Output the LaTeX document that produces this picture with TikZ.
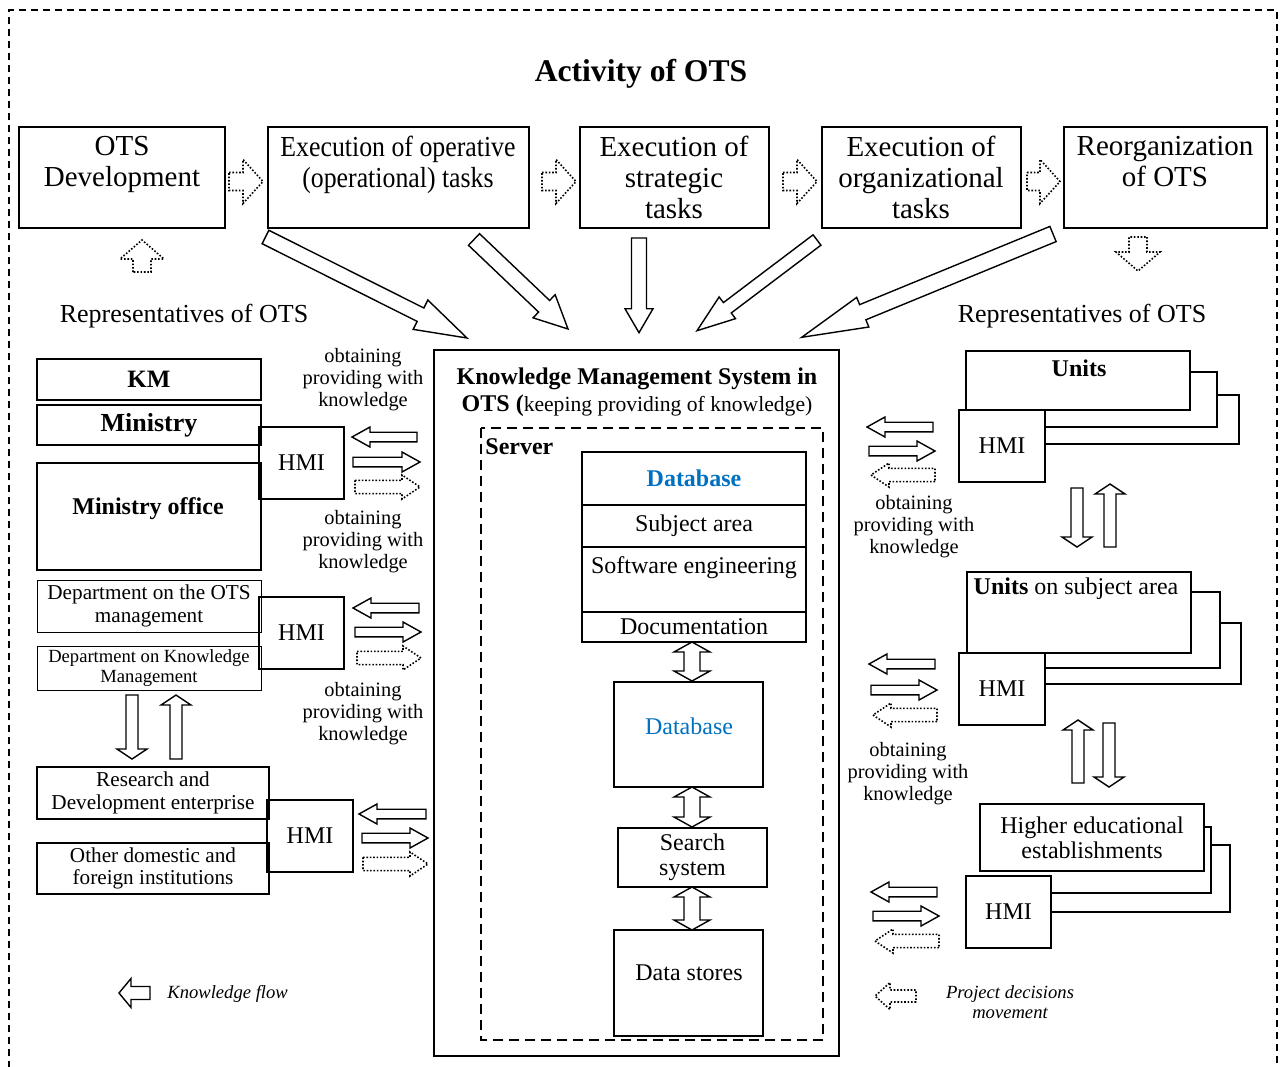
\documentclass[tikz,border=0pt]{standalone}
\usepackage{fontspec}
\setmainfont{Liberation Serif}
\usepackage{graphicx}
\usetikzlibrary{calc,fit}
\definecolor{dbblue}{HTML}{0070C0}
\tikzset{
  frame/.style={line width=0.8pt, dash pattern=on 3.5pt off 2.5pt},
  box/.style={draw, line width=0.8pt, inner sep=0pt},
  thickbox/.style={box, line width=1.3pt},
  thinbox/.style={box, line width=0.5pt},
  hmibox/.style={box, line width=1pt, font=\fontsize{12}{13}\selectfont},
  sheet/.style={line width=0.8pt},
  txt/.style={inner sep=0pt, align=center},
  topf/.style={txt, font=\fontsize{14.5}{15.3}\selectfont},
  labf/.style={txt, font=\fontsize{10.2}{11}\selectfont},
  repf/.style={txt, font=\fontsize{13}{15}\selectfont},
  midf/.style={font=\fontsize{12}{12.5}\selectfont},
  midbf/.style={font=\fontsize{12}{12.5}\selectfont\bfseries},
  deptf/.style={font=\fontsize{10.6}{11.2}\selectfont},
  smallf/.style={font=\fontsize{9.3}{9.8}\selectfont},
  legf/.style={txt, font=\fontsize{9.3}{10}\selectfont\itshape},
  blockar/.style={draw, line width=0.7pt, fill=white, line join=miter},
  dotar/.style={line width=0.8pt, dash pattern=on 0.8pt off 0.9pt},
}
% box: [style]{name}{x1}{y1}{x2}{y2}{text}; text is centred in a node named <name>t
\newcommand\bx[7][]{%
  \node[box,#1,fit={(#3,#4) (#5,#6)}] (#2) {};
  \def\bxtext{#7}%
  \ifx\bxtext\empty\else\node[txt,#1,draw=none] (#2t) at (#2.center) {#7};\fi}
% block arrow: [style]{name}{start}{end}{shaft half}{head half}{head length}
\newcommand\blk[7][]{%
  \coordinate (#2s) at #3; \coordinate (#2e) at #4;
  \coordinate (#2c) at ($(#2e)!#7!(#2s)$);
  \path[blockar,#1] ($(#2s)!#5!90:(#2e)$) -- ($(#2c)!#5!-90:(#2s)$) -- ($(#2c)!#6!-90:(#2s)$)
    -- (#2e) -- ($(#2c)!#6!90:(#2s)$) -- ($(#2c)!#5!90:(#2s)$) -- ($(#2s)!#5!-90:(#2e)$) -- cycle;}
% double-headed block arrow
\newcommand\dblk[7][]{%
  \coordinate (#2s) at #3; \coordinate (#2e) at #4;
  \coordinate (#2a) at ($(#2s)!#7!(#2e)$);
  \coordinate (#2b) at ($(#2e)!#7!(#2s)$);
  \path[blockar,#1] (#2s) -- ($(#2a)!#6!90:(#2e)$) -- ($(#2a)!#5!90:(#2e)$) -- ($(#2b)!#5!-90:(#2s)$)
    -- ($(#2b)!#6!-90:(#2s)$) -- (#2e) -- ($(#2b)!#6!90:(#2s)$) -- ($(#2b)!#5!90:(#2s)$)
    -- ($(#2a)!#5!-90:(#2e)$) -- ($(#2a)!#6!-90:(#2e)$) -- cycle;}
\begin{document}
\begin{tikzpicture}[x=0.5pt,y=-0.5pt]
\useasboundingbox (0,0) rectangle (1283,1066);
\draw[frame] (9,1080) -- (9,10) -- (1277,10) -- (1277,1080);

\node[txt, font=\fontsize{15.8}{17}\selectfont\bfseries] (title) at (641,74) {Activity of OTS};

% ---------- top row ----------
\bx{t1}{19}{127}{225}{228}{}
\bx{t2}{268}{127}{529}{228}{}
\bx{t3}{580}{127}{769}{228}{}
\bx{t4}{822}{127}{1021}{228}{}
\bx{t5}{1064}{127}{1267}{228}{}
\node[topf, anchor=north] (t1t) at (122,136) {OTS\\Development};
\node[topf, anchor=north] (t2t) at (398,136) {\scalebox{0.89}[1]{Execution of operative}\\\scalebox{0.89}[1]{(operational) tasks}};
\node[topf, anchor=north] (t3t) at (674,136) {Execution of\\strategic\\tasks};
\node[topf, anchor=north] (t4t) at (921,136) {Execution of\\organizational\\tasks};
\node[topf, anchor=north] (t5t) at (1165,136) {Reorganization\\of OTS};

\blk[dotar]{d1}{(229,181.5)}{(263,181.5)}{4.5pt}{11pt}{10pt}
\blk[dotar]{d2}{(542,181.5)}{(576,181.5)}{4.5pt}{11pt}{10pt}
\blk[dotar]{d3}{(783,181.5)}{(817,181.5)}{4.5pt}{11pt}{10pt}
\blk[dotar]{d4}{(1027,181.5)}{(1060,181.5)}{4.5pt}{11pt}{10pt}
\blk[dotar]{d5}{(142,272)}{(142,240)}{4.5pt}{11pt}{9.5pt}
\blk[dotar]{d6}{(1138,237)}{(1138,271)}{4.5pt}{11pt}{9.5pt}

\node[repf] (repl) at (184,316) {Representatives of OTS};
\node[repf] (repr) at (1082,316) {Representatives of OTS};

% ---------- big arrows into KMS ----------
\blk{b1}{(265.5,237)}{(467,338)}{3.75pt}{8.2pt}{26pt}
\blk{b2}{(474,239.5)}{(568,329)}{4pt}{8pt}{16.5pt}
\blk{b3}{(639,238)}{(639,332.7)}{3.75pt}{7pt}{12pt}
\blk{b4}{(817,240)}{(697,330.7)}{3.25pt}{6.8pt}{19pt}
\blk{b5}{(1053,234)}{(801.7,337.3)}{4.1pt}{8pt}{33pt}

% ---------- left column ----------
\bx[thickbox, font=\fontsize{12.5}{13}\selectfont\bfseries]{km}{37}{359}{261}{400}{KM}
\bx[thickbox, font=\fontsize{13}{14}\selectfont\bfseries]{min}{37}{405}{261}{445}{Ministry}
\bx[box, line width=1pt]{mino}{37}{463}{261}{570}{}
\node[txt, font=\fontsize{12}{13}\selectfont\bfseries] (minot) at (148,509) {Ministry office};
\bx[hmibox]{hmi1}{259}{427}{344}{499}{HMI}
\node[labf] (lab1) at (363,380) {obtaining\\providing with\\knowledge};
\blk{l1a}{(417,437)}{(352,437)}{2.4pt}{5pt}{9pt}
\blk{l1b}{(353,462)}{(420,462)}{2.4pt}{5pt}{9pt}
\blk[dotar]{l1c}{(355,487)}{(420,487)}{3.3pt}{6pt}{9pt}
\node[labf] (lab2) at (363,542) {obtaining\\providing with\\knowledge};

\bx[thinbox, deptf]{dots}{37}{580}{261}{632}{Department on the OTS\\management}
\bx[thinbox, smallf]{dkm}{37}{646}{261}{690}{Department on Knowledge\\Management}
\bx[hmibox]{hmi2}{259}{597}{344}{669}{HMI}
\blk{l2a}{(419,608)}{(353,608)}{2.4pt}{5pt}{9pt}
\blk{l2b}{(355,632)}{(421,632)}{2.4pt}{5pt}{9pt}
\blk[dotar]{l2c}{(357,658)}{(421,658)}{3.3pt}{6pt}{9pt}
\node[labf] (lab3) at (363,714) {obtaining\\providing with\\knowledge};

\blk{v1}{(132,695)}{(132,759)}{3pt}{7.5pt}{5pt}
\blk{v2}{(176,759)}{(176,695)}{3pt}{7.5pt}{5pt}

\bx[deptf, line width=1pt]{rd}{37}{767}{269}{819}{Research and\\Development enterprise}
\bx[deptf, line width=1pt]{oth}{37}{843}{269}{894}{Other domestic and\\foreign institutions}
\bx[hmibox]{hmi3}{267}{800}{353}{872}{HMI}
\blk{l3a}{(426,814)}{(359,814)}{2.4pt}{5pt}{9pt}
\blk{l3b}{(362,838)}{(428,838)}{2.4pt}{5pt}{9pt}
\blk[dotar]{l3c}{(363,864)}{(428,864)}{3.3pt}{6pt}{9pt}

\blk{leg1}{(150,993)}{(119,993)}{3.25pt}{7.25pt}{6pt}
\node[legf, anchor=west] (leg1t) at (167,994) {Knowledge flow};

% ---------- centre ----------
\bx[box, line width=1pt]{kms}{434}{350}{839}{1056}{}
\node[txt, font=\fontsize{12}{13.5}\selectfont] (kmst) at (637,392)
  {\textbf{Knowledge Management System in}\\\textbf{OTS (}{\fontsize{10.8}{13.5}\selectfont keeping providing of knowledge)}};
\draw[line width=0.9pt, dash pattern=on 5pt off 3pt] (481,428) rectangle (823,1040);
\node[txt, anchor=west, font=\fontsize{12}{13}\selectfont\bfseries] (srv) at (485,447) {Server};

\bx[thickbox, midbf, text=dbblue]{db1}{582}{452}{806}{505}{Database}
\bx[thickbox, midf]{subj}{582}{505}{806}{547}{Subject area}
\bx[thickbox]{soft}{582}{547}{806}{612}{}
\node[txt, midf, anchor=north] (softt) at (694,556) {Software engineering};
\bx[thickbox, midf]{doc}{582}{612}{806}{642}{Documentation}

\dblk{c1}{(692,642)}{(692,681)}{4pt}{9pt}{5pt}
\bx[box, line width=1.2pt]{db2}{614}{682}{763}{787}{}
\node[txt, midf, text=dbblue] (db2t) at (689,726) {Database};
\dblk{c2}{(692,787)}{(692,827)}{4pt}{9pt}{5pt}
\bx[box, line width=1.2pt, midf]{srch}{618}{828}{767}{887}{Search\\system}
\dblk{c3}{(692,887)}{(692,930)}{4pt}{9pt}{5pt}
\bx[box, line width=1.2pt]{ds}{614}{930}{763}{1036}{}
\node[txt, midf] (dst) at (689,973) {Data stores};

% ---------- right column ----------
\draw[sheet] (1190,372) -- (1217,372) -- (1217,427) -- (1045,427);
\draw[sheet] (1217,395) -- (1239,395) -- (1239,444) -- (1045,444);
\bx{units}{966}{351}{1190}{410}{}
\node[txt, font=\fontsize{12}{13}\selectfont\bfseries] (unitst) at (1079,368) {Units};
\bx[hmibox]{hmir1}{959}{410}{1045}{482}{HMI}
\blk{r1a}{(933,427)}{(867,427)}{2.4pt}{5pt}{9pt}
\blk{r1b}{(869,451)}{(935,451)}{2.4pt}{5pt}{9pt}
\blk[dotar]{r1c}{(935,475)}{(871,475)}{3.3pt}{6pt}{9pt}
\node[labf] (labr1) at (914,527) {obtaining\\providing with\\knowledge};
\blk{rv1}{(1077,488)}{(1077,547)}{3pt}{7.5pt}{5pt}
\blk{rv2}{(1110,547)}{(1110,484)}{3pt}{7.5pt}{5pt}

\draw[sheet] (1191,592) -- (1220,592) -- (1220,668) -- (1045,668);
\draw[sheet] (1220,623) -- (1241,623) -- (1241,684) -- (1045,684);
\bx{usub}{967}{572}{1191}{653}{}
\node[txt, font=\fontsize{12}{13}\selectfont] (usubt) at (1076,589) {\textbf{Units} on subject area};
\bx[hmibox]{hmir2}{959}{653}{1045}{725}{HMI}
\blk{r2a}{(935,664)}{(869,664)}{2.4pt}{5pt}{9pt}
\blk{r2b}{(871,690)}{(937,690)}{2.4pt}{5pt}{9pt}
\blk[dotar]{r2c}{(937,715)}{(873,715)}{3.3pt}{6pt}{9pt}
\node[labf] (labr2) at (908,774) {obtaining\\providing with\\knowledge};
\blk{rv3}{(1078,783)}{(1078,720)}{3pt}{7.5pt}{5pt}
\blk{rv4}{(1109,723)}{(1109,787)}{3pt}{7.5pt}{5pt}

\draw[sheet] (1204,827) -- (1211,827) -- (1211,893) -- (1051,893);
\draw[sheet] (1211,845) -- (1230,845) -- (1230,912) -- (1051,912);
\bx[midf]{hed}{980}{804}{1204}{871}{Higher educational\\establishments}
\bx[hmibox]{hmir3}{966}{876}{1051}{948}{HMI}
\blk{r3a}{(937,892)}{(871,892)}{2.4pt}{5pt}{9pt}
\blk{r3b}{(873,916)}{(939,916)}{2.4pt}{5pt}{9pt}
\blk[dotar]{r3c}{(939,941)}{(875,941)}{3.3pt}{6pt}{9pt}

\blk[dotar]{leg2}{(916,996)}{(875,996)}{3pt}{6.75pt}{7.5pt}
\node[legf] (leg2t) at (1010,1002) {Project decisions\\movement};
\end{tikzpicture}
\end{document}
